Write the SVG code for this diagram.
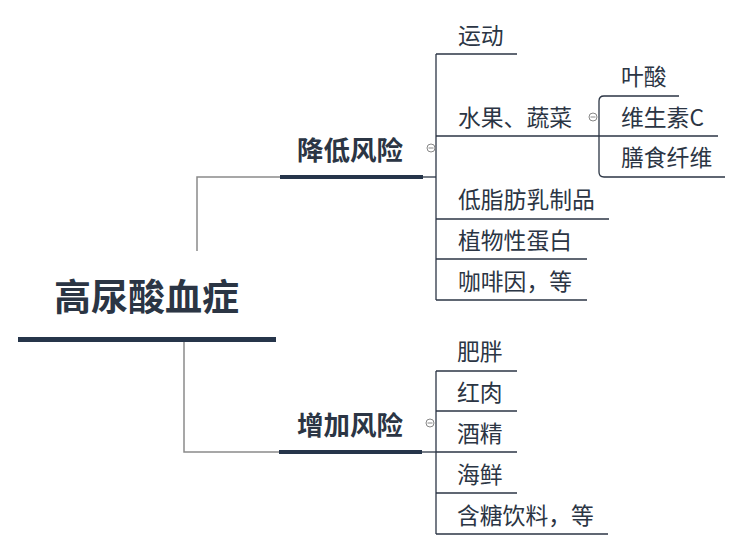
<svg xmlns="http://www.w3.org/2000/svg" width="742" height="550" viewBox="0 0 742 550">
<style>
text{font-family:"Noto Sans CJK SC","Microsoft YaHei",sans-serif;fill:#2b3544}
.root{font-size:37px;font-weight:bold}
.main{font-size:26.5px;font-weight:bold}
.leaf{font-size:22.8px}
.ul{stroke:#2b3544;stroke-width:1.3;fill:none}
.thick{fill:#26354a}
.gray{stroke:#8a8a8a;stroke-width:1.5;fill:none}
.col{fill:#fff;stroke:#888;stroke-width:1}
</style>
<rect width="742" height="550" fill="#fff"/>
<g id="connectors">
<path class="gray" d="M197,251 V177 H280"/>
<path class="gray" d="M184,342 V452 H280"/>
<path class="ul" d="M423,177 H436"/>
<path class="ul" d="M436,54 V300"/>
<path class="ul" d="M421,452 H436"/>
<path class="ul" d="M436,371 V534"/>
<path class="ul" d="M679,96 H604 Q599,96 599,101 V172 Q599,177 604,177 H725"/>
</g>
<g id="root"><text class="root" x="54" y="311">高尿酸血症</text><rect class="thick" x="18" y="337" width="258" height="5"/></g>
<g id="lower-risk"><text class="main" x="297" y="160">降低风险</text><rect class="thick" x="280" y="175" width="143" height="4"/>
<circle class="col" cx="431" cy="148" r="4"/><path d="M428.5,148 H433.5" stroke="#888" stroke-width="1"/></g>
<g id="raise-risk"><text class="main" x="297" y="435">增加风险</text><rect class="thick" x="279" y="450" width="143" height="4"/>
<circle class="col" cx="430" cy="423" r="4"/><path d="M427.5,423 H432.5" stroke="#888" stroke-width="1"/></g>
<g id="n-yundong"><text class="leaf" x="458" y="44">运动</text><path class="ul" d="M436,54 H517"/></g>
<g id="n-fruit"><text class="leaf" x="458" y="126">水果、蔬菜</text><path class="ul" d="M436,136 H718"/>
<circle class="col" cx="593" cy="117" r="4"/><path d="M590.5,117 H595.5" stroke="#888" stroke-width="1"/></g>
<g id="n-folic"><text class="leaf" x="621" y="85">叶酸</text></g>
<g id="n-vitc"><text class="leaf" x="621" y="126">维生素C</text></g>
<g id="n-fiber"><text class="leaf" x="621" y="166">膳食纤维</text></g>
<g id="n-dairy"><text class="leaf" x="458" y="208">低脂肪乳制品</text><path class="ul" d="M436,219 H609"/></g>
<g id="n-plant"><text class="leaf" x="458" y="249">植物性蛋白</text><path class="ul" d="M436,259 H587"/></g>
<g id="n-coffee"><text class="leaf" x="458" y="290">咖啡因，等</text><path class="ul" d="M436,300 H587"/></g>
<g id="n-fat"><text class="leaf" x="457" y="360">肥胖</text><path class="ul" d="M436,371 H517"/></g>
<g id="n-meat"><text class="leaf" x="457" y="401">红肉</text><path class="ul" d="M436,411 H517"/></g>
<g id="n-alcohol"><text class="leaf" x="457" y="442">酒精</text><path class="ul" d="M436,452 H517"/></g>
<g id="n-seafood"><text class="leaf" x="457" y="483">海鲜</text><path class="ul" d="M436,493 H517"/></g>
<g id="n-sugar"><text class="leaf" x="457" y="524">含糖饮料，等</text><path class="ul" d="M436,534 H608"/></g>
</svg>
